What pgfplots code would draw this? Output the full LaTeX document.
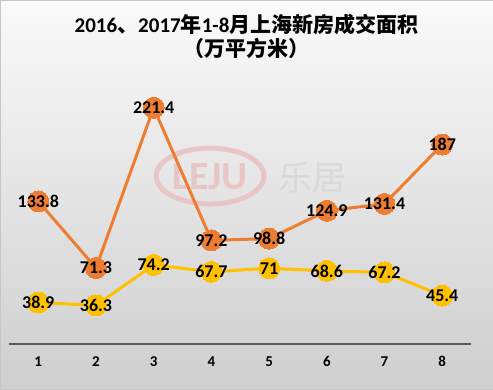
\documentclass[border=0pt]{standalone}
\usepackage{pgfplots}
\pgfplotsset{compat=1.18}
\usepackage{fontspec}
\setmainfont{Carlito}
\newfontfamily\cjk{Noto Sans CJK SC}
\definecolor{org}{HTML}{ED7D31}
\definecolor{ylw}{HTML}{FFC000}
\definecolor{wm}{HTML}{E8C6C6}
\begin{document}
\begin{tikzpicture}[x=1pt,y=1pt]
\shade[top color=gray!4, bottom color=gray!38, draw=gray!45] (0,0) rectangle (493,389);
% title
\node[font=\bfseries\fontsize{21}{21}\selectfont] at (246.5,365) {2016{\cjk 、}2017{\cjk 年}1-8{\cjk 月上海新房成交面积}};
\node[font=\bfseries\fontsize{21}{21}\selectfont] at (246.5,341) {\cjk （万平方米）};
% watermark
\draw[wm, line width=5pt] (210,213) ellipse (54 and 28);
\node[wm, font=\bfseries\fontsize{40}{40}\selectfont] at (210,212) {LEJU};
\node[gray!30, font=\cjk\fontsize{34}{34}\selectfont] at (313,211) {乐居};
\begin{axis}[
  at={(16,42)}, anchor=south west,
  scale only axis, width=462pt, height=267pt,
  xmin=0.5, xmax=8.5, ymin=0, ymax=250,
  /pgf/number format/assume math mode=true,
  axis x line*=bottom, axis y line=none,
  x axis line style={line width=1.6pt, color=black!65, -},
  xtick={1,...,8}, major tick length=0pt,
  xticklabel style={font=\bfseries\fontsize{15}{15}\selectfont, yshift=-9pt},
  ytick={50,100,...,250}, yticklabels={},
  ymajorgrids, grid style={gray!55, line width=0.8pt},
  clip=false,
  nodes near coords={\bfseries\pgfmathprintnumber{\pgfplotspointmeta}},
  every node near coord/.append style={anchor=center, font=\bfseries\fontsize{18}{18}\selectfont, text=black},
]
\addplot[ylw, line width=3pt, mark=*, mark size=10.5pt, mark options={fill=ylw, draw=ylw, line width=0pt}] coordinates {
(1,38.9) (2,36.3) (3,74.2) (4,67.7) (5,71) (6,68.6) (7,67.2) (8,45.4)};
\addplot[org, line width=3pt, mark=*, mark size=10.5pt, mark options={fill=org, draw=org, line width=0pt}] coordinates {
(1,133.8) (2,71.3) (3,221.4) (4,97.2) (5,98.8) (6,124.9) (7,131.4) (8,187)};
\end{axis}
\end{tikzpicture}
\end{document}
